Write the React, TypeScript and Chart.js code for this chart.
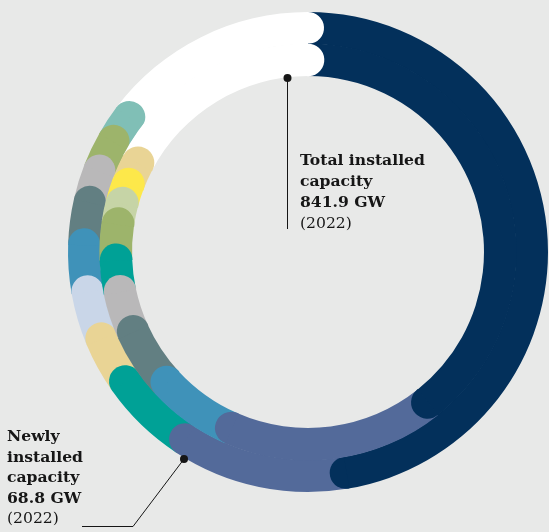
import React, { useEffect, useRef } from "react";
import { Chart, registerables } from "chart.js";

Chart.register(...registerables);

const BG = "#e8e9e8";
const TEXT = "#161616";

// Outer ring: newly installed capacity 2022 (GW)
const newLabels = ["Market 1", "Market 2", "Market 3", "Market 4", "Market 5", "Market 6", "Market 7", "Market 8", "Market 9", "Market 10", "Other"];
const newValues = [32.5, 8.2, 4.1, 2.4, 2.4, 2.3, 2.1, 1.6, 1.6, 1.4, 10.1];
const newColors = ["#03305b", "#536a9a", "#00a196", "#e9d495", "#c9d6e8", "#3f92b9", "#627f82", "#b9b8b9", "#9db46b", "#80bfb6", "#ffffff"];

// Inner ring: total installed capacity 2022 (GW)
const totalLabels = ["Market 1", "Market 2", "Market 6", "Market 7", "Market 8", "Market 3", "Market 9", "Market 11", "Market 12", "Market 4", "Other"];
const totalValues = [331.1, 145.0, 55.7, 42.6, 29.5, 22.2, 25.3, 14.7, 13.8, 16.4, 145.7];
const totalColors = ["#03305b", "#536a9a", "#3f92b9", "#627f82", "#b9b8b9", "#00a196", "#9db46b", "#c6d4a6", "#fde84a", "#e9d495", "#ffffff"];

const totalText = ["Total installed", "capacity", "841.9 GW"];
const newText = ["Newly", "installed", "capacity", "68.8 GW"];
const yearText = "(2022)";

const roundedRings = {
  id: "roundedRings",
  beforeDatasetsDraw(chart: any) {
    const ctx = chart.ctx;
    ctx.save();
    chart.data.datasets.forEach((ds: any, di: number) => {
      const meta = chart.getDatasetMeta(di);
      const arcs = meta.data.map((a: any) =>
        a.getProps(["x", "y", "startAngle", "endAngle", "innerRadius", "outerRadius"], true)
      );
      const colors = ds.backgroundColor as string[];
      const ext = di > 0 ? 0.6 : 0;
      arcs.forEach((a: any, i: number) => {
        ctx.beginPath();
        ctx.arc(a.x, a.y, a.outerRadius + ext, a.startAngle, a.endAngle);
        ctx.arc(a.x, a.y, a.innerRadius, a.endAngle, a.startAngle, true);
        ctx.closePath();
        ctx.fillStyle = colors[i];
        ctx.fill();
      });
      arcs.forEach((a: any, i: number) => {
        const h = (a.outerRadius - a.innerRadius) / 2;
        const rm = a.innerRadius + h;
        const px = a.x + rm * Math.cos(a.endAngle);
        const py = a.y + rm * Math.sin(a.endAngle);
        ctx.beginPath();
        ctx.arc(px, py, h + (di > 0 ? 0.3 : 0), a.endAngle - 0.06, a.endAngle + Math.PI + 0.06);
        ctx.closePath();
        ctx.fillStyle = colors[i];
        ctx.fill();
      });
    });
    ctx.restore();
    return false;
  },
};

const annotations = {
  id: "annotations",
  afterDraw(chart: any) {
    const ctx = chart.ctx;
    ctx.save();
    ctx.strokeStyle = TEXT;
    ctx.fillStyle = TEXT;
    ctx.lineWidth = 1;

    // Total leader
    ctx.beginPath();
    ctx.moveTo(287.5, 78);
    ctx.lineTo(287.5, 229);
    ctx.stroke();
    ctx.beginPath();
    ctx.arc(287.5, 78, 4, 0, Math.PI * 2);
    ctx.fill();

    // Newly leader
    ctx.beginPath();
    ctx.moveTo(184, 459);
    ctx.lineTo(133, 526.5);
    ctx.lineTo(82, 526.5);
    ctx.stroke();
    ctx.beginPath();
    ctx.arc(184, 459, 4, 0, Math.PI * 2);
    ctx.fill();

    ctx.textBaseline = "middle";
    ctx.textAlign = "left";
    const bold = "bold 15.6px 'DejaVu Serif'";
    const reg = "15.6px 'DejaVu Serif'";
    const tY = [161, 182, 203];
    totalText.forEach((t, i) => {
      ctx.font = bold;
      ctx.fillText(t, 300, tY[i]);
    });
    ctx.font = reg;
    ctx.fillText(yearText, 300, 223.5);

    const nY = [437, 457.5, 478, 498.5];
    newText.forEach((t, i) => {
      ctx.font = bold;
      ctx.fillText(t, 7, nY[i]);
    });
    ctx.font = reg;
    ctx.fillText(yearText, 7, 519);
    ctx.restore();
  },
};

export default function App() {
  const ref = useRef<HTMLCanvasElement>(null);
  useEffect(() => {
    document.body.style.margin = "0";
    document.body.style.background = BG;
    const chart = new Chart(ref.current!, {
      type: "doughnut",
      data: {
        labels: totalLabels,
        datasets: [
          { label: "Newly installed capacity", data: newValues, backgroundColor: newColors, borderWidth: 0 } as any,
          { label: "Total installed capacity", data: totalValues, backgroundColor: totalColors, borderWidth: 0 } as any,
        ],
      },
      options: {
        responsive: false,
        animation: false,
        cutout: "73.33%",
        hoverOffset: 0,
        offset: 0,
        spacing: 0,
        layout: { padding: { left: 68, right: 1, top: 12, bottom: 40 } },
        plugins: { legend: { display: false }, tooltip: { enabled: false } },
        events: [],
      } as any,
      plugins: [roundedRings, annotations],
    });
    return () => chart.destroy();
  }, []);
  return (
    <div style={{ width: 549, height: 532, background: BG }}>
      <canvas ref={ref} width={549} height={532} style={{ display: "block" }} />
    </div>
  );
}
